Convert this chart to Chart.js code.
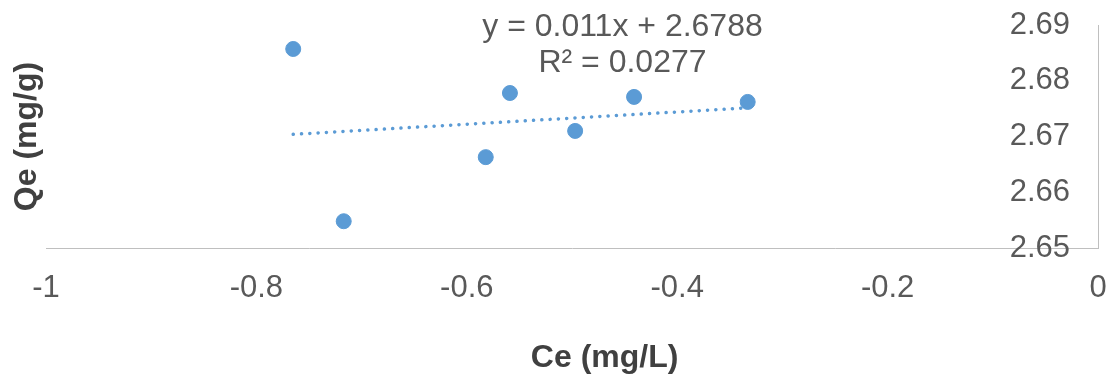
<!DOCTYPE html>
<html>
<head>
<meta charset="utf-8">
<script src="https://cdn.jsdelivr.net/npm/chart.js@4"></script>
<style>
  html, body { margin: 0; padding: 0; background: #fff; }
  #wrap { width: 1112px; height: 377px; }
</style>
</head>
<body>
<div id="wrap"><canvas id="scatter" width="1112" height="377"></canvas></div>
<script>
// points
const ceValues = [-0.765, -0.717, -0.582, -0.559, -0.497, -0.441, -0.333];
const qeValues = [2.6857, 2.6548, 2.6663, 2.6778, 2.6710, 2.6771, 2.6762];
const xTicks = [-1, -0.8, -0.6, -0.4, -0.2, 0];
const yTicks = [2.65, 2.66, 2.67, 2.68, 2.69];
// trendline as printed on the chart
const slope = 0.011;
const intercept = 2.6788;
const eqLines = ["y = 0.011x + 2.6788", "R² = 0.0277"];
const xTitle = "Ce (mg/L)";
const yTitle = "Qe (mg/g)";

const blue = "#5B9BD5";
const textGrey = "#595959";
const titleGrey = "#404040";
const axisGrey = "#BFBFBF";
const fontFamily = "'Liberation Sans', Arial, sans-serif";

document.addEventListener("DOMContentLoaded", () => {
  let points = ceValues.map((x, i) => ({ x: x, y: qeValues[i] }));
  let xMin = Math.min(...ceValues);
  let xMax = Math.max(...ceValues);
  let trend = [
    { x: xMin, y: slope * xMin + intercept },
    { x: xMax, y: slope * xMax + intercept },
  ];

  // equation label + x title (excel puts the title a bit right of centre)
  let extraText = {
    id: "extraText",
    afterDraw(chart) {
      let ctx = chart.ctx;
      let xs = chart.scales.x;
      ctx.save();
      ctx.textAlign = "center";
      ctx.textBaseline = "middle";
      ctx.font = "32px " + fontFamily;
      ctx.fillStyle = textGrey;
      let cx = xs.getPixelForValue(-0.452);
      ctx.fillText(eqLines[0], cx, 27);
      ctx.fillText(eqLines[1], cx, 63);
      ctx.font = "bold 32px " + fontFamily;
      ctx.fillStyle = titleGrey;
      ctx.fillText(xTitle, xs.getPixelForValue(-0.469), 358);
      ctx.restore();
    },
  };

  let noPad = (s) => {
    s.paddingTop = 0;
    s.paddingBottom = 0;
    s.paddingLeft = 0;
    s.paddingRight = 0;
  };

  let ctx = document.getElementById("scatter").getContext("2d");
  let chart = new Chart(ctx, {
    type: "scatter",
    data: {
      datasets: [
        {
          label: "Qe",
          data: points,
          backgroundColor: blue,
          borderColor: blue,
          pointRadius: 7.5,
          pointHoverRadius: 7.5,
          order: 1,
        },
        {
          type: "line",
          label: "Linear (Qe)",
          data: trend,
          borderColor: blue,
          borderWidth: 3.5,
          borderDash: [0.1, 8.2],
          borderCapStyle: "round",
          pointRadius: 0,
          fill: false,
          order: 2,
        },
      ],
    },
    options: {
      responsive: false,
      animation: false,
      layout: { padding: { top: 25, right: 0, bottom: 0, left: 0 } },
      plugins: {
        legend: { display: false },
        tooltip: { enabled: false },
      },
      scales: {
        x: {
          type: "linear",
          position: "bottom",
          min: -1,
          max: 0,
          afterBuildTicks: (s) => { s.ticks = xTicks.map((v) => ({ value: v })); },
          afterFit: (s) => { s.height = 129; noPad(s); },
          ticks: {
            color: textGrey,
            font: { family: fontFamily, size: 31 },
            padding: 22,
            maxRotation: 0,
            callback: (v) => String(Number(v.toFixed(1))),
          },
          grid: { display: true, color: "rgba(0,0,0,0)", drawTicks: false },
          border: { display: true, color: axisGrey, width: 1 },
        },
        y: {
          type: "linear",
          position: "right",
          min: 2.65,
          max: 2.69,
          afterBuildTicks: (s) => { s.ticks = yTicks.map((v) => ({ value: v })); },
          afterFit: (s) => { s.width = 14; noPad(s); },
          ticks: {
            mirror: true,
            color: textGrey,
            font: { family: fontFamily, size: 31 },
            padding: -28,
            callback: (v) => v.toFixed(2),
          },
          grid: { display: true, color: "rgba(0,0,0,0)", drawTicks: false },
          border: { display: true, color: axisGrey, width: 1 },
        },
        yTitle: {
          type: "linear",
          position: "left",
          display: true,
          afterFit: (s) => { s.width = 46; noPad(s); },
          ticks: { display: false },
          grid: { display: false },
          border: { display: false },
          title: {
            display: true,
            text: yTitle,
            color: titleGrey,
            font: { family: fontFamily, size: 32, weight: "bold" },
            padding: { top: 8, bottom: 0 },
          },
        },
      },
    },
    plugins: [extraText],
  });
});
</script>
</body>
</html>
